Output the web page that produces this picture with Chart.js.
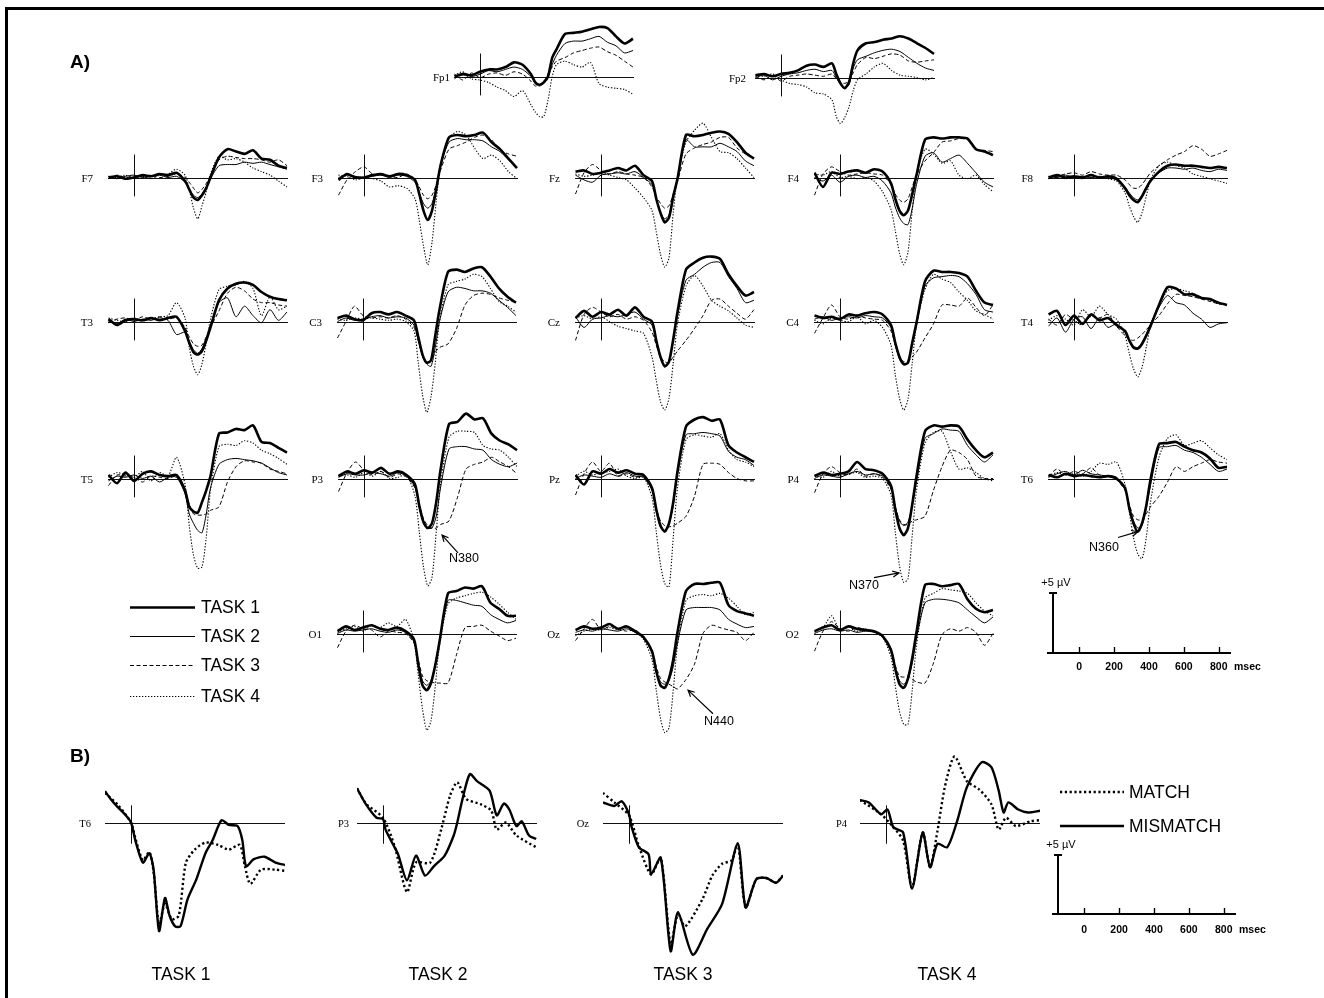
<!DOCTYPE html>
<html>
<head>
<meta charset="utf-8">
<script src="https://cdn.jsdelivr.net/npm/chart.js@4.4.1/dist/chart.umd.min.js"></script>
<style>
  body { margin: 0; background: #fff; }
  #fig { position: relative; width: 1324px; height: 998px; overflow: hidden; background: #fff; }
  #fig canvas { position: absolute; }
</style>
</head>
<body>
<div id="fig"></div>
<script>
// Сетка времени (мс) для панели A
const times = [-150, -100, -50, 0, 50, 100, 150, 200, 250, 300, 325, 350, 375, 400, 425, 450, 500, 550, 600, 650, 700, 750, 800, 850, 900];
const taskNames = ["TASK 1", "TASK 2", "TASK 3", "TASK 4"];
const scaleTicks = [0, 200, 400, 600, 800];

// Панель A: по электроду — 4 ряда (TASK 1..4), мкВ
const Fp1 = [
  [0, 0.2, 0.1, 0.4, 0.6, 0.6, 0.8, 1.2, 1.0, 0.2, -0.5, -0.7, -0.5, 0, 1.6, 2.3, 3.6, 3.7, 3.8, 4.0, 4.2, 4.1, 3.4, 2.8, 3.2],
  [-0.2, 0.3, 0, 0.2, 0.5, 0.4, 0.6, 0.8, 0.6, 0, -0.6, -0.8, -0.6, -0.1, 1.0, 1.8, 2.8, 3.0, 3.0, 3.2, 3.4, 2.9, 2.6, 2.0, 2.2],
  [0.2, -0.3, 0.3, -0.1, 0.2, 0.3, 0.1, 0.4, 0.2, -0.4, -0.8, -0.7, -0.4, 0.2, 0.8, 1.3, 1.6, 2.0, 2.2, 2.4, 2.5, 2.1, 1.8, 1.3, 0.8],
  [0.1, 0.4, -0.2, -0.3, -0.5, -0.9, -1.2, -1.7, -1.2, -2.4, -3.0, -3.4, -3.4, -2.0, 0, 1.0, 1.3, 1.0, 0.8, 1.2, -0.6, -0.9, -1.0, -1.1, -1.5]
];
const Fp2 = [
  [0.2, 0.3, 0.1, 0.3, 0.4, 0.6, 1.0, 1.1, 0.9, 1.2, 0.3, -0.5, -0.9, -0.4, 1.2, 2.3, 2.9, 3.0, 3.2, 3.3, 3.5, 3.3, 2.9, 2.5, 2.0],
  [0, 0.2, -0.2, 0.1, 0.3, 0.4, 0.6, 0.7, 0.5, 0.6, 0, -0.6, -0.9, -0.6, 0.8, 1.5, 1.8, 2.1, 2.3, 2.4, 2.2, 1.7, 1.2, 0.8, 0.6],
  [0.1, -0.2, 0.2, -0.3, 0.1, 0.2, 0.3, 0.2, 0.1, 0.3, -0.1, -0.4, -0.5, -0.3, 0.4, 1.1, 1.7, 1.6, 1.8, 2.0, 1.9, 1.4, 1.3, 1.4, 1.5],
  [0.2, 0.1, 0.3, -0.2, -0.5, -0.6, -0.8, -1.3, -1.4, -1.9, -3.3, -3.9, -3.4, -2.5, -1.1, -0.2, 0.3, 0.9, 1.2, 0.6, 0.2, 0.1, 0, -0.2, 0]
];
const F7 = [
  [0, 0.1, -0.1, 0, 0.2, 0.1, 0.3, 0.2, 0.4, -0.3, -1.0, -1.7, -1.9, -1.5, -0.9, 0, 1.7, 2.4, 2.2, 2.0, 2.3, 1.6, 1.5, 1.0, 0.8],
  [0.1, -0.1, 0.1, 0.2, 0, 0.1, 0.2, 0, 0.1, -0.4, -1.0, -1.5, -1.7, -1.4, -0.8, -0.1, 1.0, 1.1, 1.1, 1.3, 1.2, 1.3, 1.1, 0.9, 0.7],
  [-0.1, 0.2, 0, 0.1, 0.1, 0.2, 0, 0.1, 0.3, 0, -0.4, -0.9, -1.3, -1.0, -0.5, 0.2, 1.5, 1.8, 1.7, 1.6, 1.6, 1.5, 1.3, 1.5, 1.0],
  [0.1, 0, 0.2, -0.1, 0.1, -0.1, 0.2, 0.3, 0.7, 0.2, -1.0, -2.6, -3.5, -2.4, -1.2, 0.3, 1.8, 1.5, 1.6, 1.3, 0.8, 0.5, 0.2, -0.3, -0.8]
];
const F3 = [
  [-0.2, 0.3, 0, 0, 0.2, 0.3, 0.1, 0.3, 0.2, -0.2, -1.4, -2.8, -3.6, -2.8, -1.0, 1.0, 3.4, 3.6, 3.5, 3.6, 3.8, 3.0, 2.4, 1.6, 0.8],
  [0, 0.2, 0.1, 0, 0.1, 0.2, 0, 0.2, 0.1, -0.4, -1.3, -2.2, -2.6, -2.2, -0.8, 1.0, 3.0, 3.3, 3.2, 3.2, 3.1, 2.6, 2.2, 1.5, 0.9],
  [-1.5, -0.2, 0.5, 0.9, 0.3, 0.2, 0.1, 0, 0.3, -0.2, -0.8, -1.5, -1.8, -1.5, -0.6, 0.6, 2.4, 2.7, 3.0, 3.4, 3.6, 3.2, 2.3, 2.0, 1.8],
  [0.2, 0.1, -0.2, 0, -0.1, -0.3, -0.8, -0.7, -0.9, -1.8, -3.6, -5.8, -7.4, -5.5, -2.0, 1.0, 3.3, 3.9, 3.6, 2.5, 1.6, 1.9, 1.4, 0.5, -0.1]
];
const Fz = [
  [0.5, 0.6, 0.3, 0.4, 0.6, 0.8, 0.6, 1.0, 0.2, -0.3, -1.8, -3.0, -3.8, -3.4, -1.6, -0.1, 3.6, 3.5, 3.6, 3.8, 3.9, 3.7, 3.0, 2.1, 1.6],
  [0.2, -0.2, -0.4, 0.2, 0.3, 0.4, 0.3, 0.5, 0, -0.6, -1.8, -3.0, -3.5, -3.2, -1.6, 0, 3.2, 2.6, 2.6, 2.6, 2.9, 2.6, 2.2, 1.4, 1.0],
  [-1.4, 0.4, 1.1, 0.6, 0.3, 0.5, 0.3, 0.2, 0, -0.8, -1.6, -2.2, -2.6, -2.4, -1.4, -0.3, 2.0, 2.5, 2.8, 3.0, 3.4, 3.4, 2.5, 2.0, 1.7],
  [0.3, 0.1, 0.2, 0.4, 0.2, 0, -0.2, -0.9, -1.7, -2.8, -4.6, -6.5, -7.6, -6.8, -3.0, 0, 3.0, 4.0, 4.6, 3.4, 2.2, 2.1, 1.6, 0.8, 0]
];
const F4 = [
  [0.4, -0.8, 0.4, 0.3, 0.5, 0.6, 0.4, 0.7, 0.5, -0.5, -1.8, -2.8, -3.2, -2.8, -1.4, 0.2, 3.2, 3.4, 3.3, 3.4, 3.4, 3.3, 2.4, 2.2, 1.9],
  [0, -0.3, 0.2, -0.4, 0.1, 0.2, 0, 0.1, -0.3, -1.3, -2.5, -3.4, -3.9, -4.0, -2.6, -0.6, 1.8, 2.1, 1.3, 1.6, 1.9, 1.2, 0.4, -0.4, -0.8],
  [-1.5, 0.3, 0.9, 0.5, 0.2, 0.3, 0.4, 0.3, 0.2, -0.6, -1.4, -1.9, -2.1, -1.8, -0.8, 0.2, 1.4, 2.1, 3.0, 3.1, 3.3, 3.2, 2.4, 2.3, 2.2],
  [0.3, 0.2, 0.5, 0, 0.1, -0.1, 0, -0.3, -1.2, -2.7, -4.5, -6.4, -7.4, -6.3, -2.8, 0.2, 2.4, 2.0, 1.2, 1.4, 0.2, -0.1, 0.2, -0.6, -1.2]
];
const F8 = [
  [0, 0.2, 0, 0.1, 0, 0.2, 0, 0.1, -0.1, -0.9, -1.5, -1.9, -2.1, -1.6, -0.9, -0.3, 0.5, 1.0, 1.1, 1.0, 1.0, 0.9, 0.8, 0.9, 0.8],
  [0.1, 0, 0.2, 0, 0.1, 0, 0.1, 0, -0.2, -0.8, -1.3, -1.7, -1.9, -1.5, -0.8, -0.2, 0.4, 0.8, 0.8, 0.7, 0.8, 0.6, 0.5, 0.7, 0.6],
  [-0.1, 0.1, 0.3, 0.4, 0.2, 0.5, 0.3, 0.2, 0.2, -0.2, -0.6, -0.9, -0.9, -0.6, -0.1, 0.4, 1.0, 1.5, 1.9, 2.2, 2.7, 2.4, 1.8, 2.0, 2.3],
  [0.1, 0, -0.1, 0, -0.1, 0, 0, -0.1, -0.3, -1.3, -2.4, -3.3, -3.8, -3.0, -1.6, -0.2, 1.0, 1.3, 1.0, 0.8, 0.3, 0.1, -0.1, -0.3, -0.5]
];
const T3 = [
  [0.2, -0.3, 0.1, 0.2, 0.1, 0.3, 0.1, 0.3, 0.4, -0.8, -1.8, -2.6, -2.8, -2.5, -1.6, -0.5, 1.8, 2.8, 3.2, 3.3, 3.1, 2.5, 2.1, 1.9, 1.8],
  [0, -0.2, 0.2, 0, 0.2, 0.1, 0.3, 0.1, -1.1, -0.9, -1.7, -2.4, -2.7, -2.3, -1.4, -0.3, 1.6, 2.0, 0.4, 1.3, 0.5, -0.1, 1.0, 0.1, 0.8],
  [-0.1, 0.2, 0.3, 0.1, 0.4, 0.2, 0.4, 0.2, 0.3, -0.5, -1.3, -1.9, -2.1, -2.0, -1.3, -0.5, 0.9, 2.4, 2.9, 2.6, 1.9, 1.6, 1.6, 1.4, 1.3],
  [0.3, 0.1, 0, 0.3, 0.1, 0.2, 0.4, 0.5, 1.6, 0.3, -2.2, -3.8, -4.5, -3.6, -1.8, 0.2, 2.7, 3.0, 3.1, 3.4, 2.8, 0.5, 2.1, 1.0, 1.3]
];
const C3 = [
  [0.3, 0.5, 0.2, 0.1, 0.7, 0.8, 0.6, 0.8, 0.5, 0.1, -1.3, -2.8, -3.5, -3.3, -1.2, 1.0, 4.2, 4.4, 4.2, 4.5, 4.6, 3.8, 2.8, 2.1, 1.6],
  [0, 0.3, 0.1, 0.2, 0.4, 0.5, 0.3, 0.4, 0.3, -0.3, -1.6, -2.9, -3.6, -3.8, -2.2, 0, 2.5, 2.9, 2.8, 2.6, 2.6, 2.4, 1.8, 1.2, 0.5],
  [-1.4, 0, 1.3, 0.5, 0.3, 0.4, 0.3, 0.5, 0.2, -0.5, -1.6, -2.9, -3.4, -3.3, -2.6, -2.2, -1.9, -0.6, 1.4, 2.2, 2.4, 2.3, 2.0, 1.8, 1.6],
  [0.2, 0.1, 0.3, 0.2, 0.3, 0.2, 0.1, 0.2, 0, -0.8, -3.5, -6.2, -7.7, -6.4, -3.5, 0, 3.1, 3.4, 3.6, 4.0, 3.8, 2.8, 1.7, 1.3, 0.8]
];
const Cz = [
  [0.3, 0.9, 0.4, 0.8, 0.6, 1.0, 0.5, 1.2, 0.4, 0, -1.6, -3.0, -3.8, -3.4, -1.5, 0.8, 4.4, 5.0, 5.4, 5.5, 5.3, 4.0, 3.0, 2.2, 2.5],
  [0.4, -0.5, 0.2, 0.3, 0.5, 0.4, 0.6, 0.8, 0.2, -0.3, -1.7, -3.1, -3.8, -3.5, -1.6, 0.5, 3.5, 4.0, 4.6, 5.0, 5.0, 3.8, 2.8, 1.6, 1.8],
  [-1.6, 0.6, 1.2, 0.8, 0.4, 0.6, 0.2, 0.4, 0.1, -0.9, -2.0, -3.0, -3.4, -3.5, -3.0, -2.5, -1.6, -0.6, 0.5, 1.8, 1.9, 1.3, 0.7, 0.2, 1.0],
  [0.3, 0.5, 0.2, 0.4, 0, -0.4, -0.6, -0.8, -1.0, -3.0, -5.0, -6.8, -7.5, -6.5, -3.5, -0.2, 3.0, 3.9, 3.0, 1.8, 1.3, 0.9, 0.3, -0.3, -0.5]
];
const C4 = [
  [0.5, 0.3, 0.4, 0.2, 0.6, 0.5, 0.7, 0.8, 0.6, -0.3, -1.8, -3.0, -3.6, -3.5, -1.8, -0.1, 3.4, 4.3, 4.2, 4.2, 4.1, 3.8, 2.6, 1.6, 1.4],
  [0.2, 0.4, 0.1, 0.3, 0.4, 0.3, 0.5, 0.4, 0.3, -0.5, -2.0, -3.2, -3.7, -3.4, -1.9, -0.3, 3.0, 3.7, 3.8, 3.9, 3.8, 3.2, 2.3, 1.0, 0.8],
  [-1.0, 0.3, 1.4, 0.4, 0.2, 0.5, 0.3, 0.2, 0.1, -0.8, -2.0, -3.0, -3.4, -3.4, -3.0, -2.6, -1.4, -0.2, 1.4, 1.4, 1.3, 2.0, 1.2, 0.5, 1.4],
  [0.1, -0.2, 0.3, 0.1, 0, 0.4, -0.2, 0.1, -0.5, -2.0, -4.5, -6.5, -7.5, -6.6, -3.5, -0.3, 2.7, 4.0, 3.6, 3.3, 2.5, 1.8, 0.9, 0.6, 0.2]
];
const T4 = [
  [0.6, 0.9, -0.3, 0.5, -0.2, 0.6, 0.1, 0.3, -0.3, -0.8, -1.6, -2.2, -2.3, -1.9, -1.2, -0.4, 1.4, 2.9, 2.8, 2.3, 2.3, 2.0, 1.9, 1.6, 1.4],
  [-0.4, 0.3, -0.9, 0.2, 0.4, -0.6, 0.3, -0.5, -0.2, -0.9, -1.6, -2.1, -2.2, -1.8, -1.1, -0.2, 1.2, 2.2, 1.6, 1.4, 0.7, 0.2, -0.5, -0.2, -0.1],
  [0.2, -0.3, 0.6, 0.1, -0.3, 0.5, 0.3, 0.6, -0.4, -1.2, -1.5, -1.6, -1.4, -1.1, -0.7, -0.3, 0.5, 1.5, 2.3, 2.2, 2.1, 1.9, 1.7, 1.5, 1.4],
  [0.1, 0.5, 0.2, -0.3, 1.0, 0.4, 1.3, 0.6, 0.2, -1.2, -2.7, -4.0, -4.7, -3.9, -2.2, -0.4, 1.4, 2.6, 2.8, 2.6, 2.4, 2.0, 1.8, 1.5, 1.4]
];
const T5 = [
  [0.3, -0.4, 0.5, -0.2, 0.4, 0.6, 0.3, 0.2, 0.3, -1.0, -2.4, -2.8, -2.9, -2.0, -1.0, 0.2, 3.8, 3.9, 4.2, 4.1, 4.5, 3.1, 3.0, 2.6, 2.2],
  [-0.2, 0.2, 0.1, 0.3, 0, 0.2, -0.3, 0.1, 0.1, -1.3, -3.0, -3.8, -4.4, -4.6, -3.0, -0.8, 1.2, 1.6, 1.7, 1.6, 1.5, 1.3, 0.9, 0.5, 0.3],
  [-0.6, 0.3, 0.2, 0.1, -0.3, 0.2, 0.1, 0, 0.2, -1.0, -2.2, -3.0, -3.1, -3.1, -3.0, -2.7, -2.4, -0.3, 1.0, 1.5, 1.4, 1.3, 0.8, 0.6, 0.4],
  [0.1, 0.5, 0.3, 0.1, 0.6, -0.2, 0.5, 0.2, 1.8, -0.5, -4.0, -6.5, -7.6, -7.5, -5.0, -1.0, 2.7, 2.9, 2.8, 3.2, 3.0, 2.4, 2.1, 1.7, 1.2]
];
const P3 = [
  [0.2, 0.6, 0.4, 0.7, 0.5, 0.9, 0.4, 0.6, 0.3, -0.5, -2.3, -3.7, -4.2, -3.8, -2.0, 0.7, 4.6, 4.8, 5.5, 5.0, 5.1, 3.8, 3.2, 2.9, 2.4],
  [0.1, 0.4, 0.3, 0.3, 0.5, 0.4, 0.2, 0.5, 0.2, -0.7, -2.4, -3.8, -4.2, -4.2, -3.2, -0.8, 2.5, 2.7, 2.7, 2.5, 2.4, 1.6, 1.2, 1.0, 1.3],
  [-1.1, 0.5, 1.4, 0.7, 0.3, 0.6, 0.1, 0.4, 0.1, -0.8, -2.2, -3.4, -4.0, -4.2, -4.2, -3.9, -3.6, -1.6, 0.8, 1.2, 1.4, 1.8, 1.4, 1.0, 0.4],
  [0.2, 0.3, 0.1, 0.5, 0.2, 0.6, 0, 0.1, 0.3, -1.5, -4.5, -7.5, -9.1, -8.4, -4.5, -0.5, 3.5, 4.0, 4.0, 3.9, 2.8, 2.5, 2.4, 1.8, 1.0]
];
const Pz = [
  [0.3, -0.5, 0.6, 0.4, 0.8, 0.5, 0.7, 0.4, 0.3, -0.8, -2.6, -4.0, -4.5, -3.8, -2.0, 0.6, 4.4, 5.0, 5.2, 4.9, 5.0, 2.8, 2.2, 1.8, 1.4],
  [0, 0.3, 0.2, 0.1, 0.4, 0.2, 0.5, 0.2, 0.1, -1.0, -2.8, -4.1, -4.4, -3.9, -2.3, 0.3, 3.7, 3.8, 3.9, 3.8, 3.6, 2.3, 1.8, 1.6, 1.1],
  [-1.4, 0.4, 1.4, 0.6, 1.3, 0.2, 0.4, 0.1, 0.2, -0.9, -2.5, -3.6, -4.0, -4.1, -4.0, -3.8, -3.2, -1.5, 1.2, 1.3, 1.2, 0.5, 0, -0.2, -0.2],
  [0.2, 0.6, 0.3, 0.5, 0.6, 0.8, 0.2, 0, 0.1, -1.6, -4.5, -7.3, -8.9, -9.2, -5.0, -0.8, 3.3, 3.7, 3.6, 3.5, 3.8, 2.4, 1.6, 1.4, 1.0]
];
const P4 = [
  [0.2, 0.5, 0.3, 0.4, 0.6, 1.4, 0.8, 0.7, 0.4, -0.6, -2.6, -4.2, -4.8, -4.2, -2.2, 0.2, 4.0, 4.5, 4.4, 4.5, 4.4, 3.3, 2.4, 1.8, 2.2],
  [0, 0.3, 0.2, 0.1, 0.4, 0.6, 0.3, 0.4, 0.2, -0.8, -2.4, -3.6, -4.0, -3.7, -2.3, -0.3, 3.4, 3.8, 4.2, 4.1, 4.0, 2.8, 2.0, 1.4, 2.0],
  [-1.2, 0.4, 1.0, 0.5, 0.3, 0.8, 0.2, 0.4, 0.1, -0.9, -2.4, -3.5, -3.9, -3.9, -3.6, -3.5, -3.2, -1.0, 1.0, 2.4, 2.2, 1.6, 0.2, 0, 0],
  [0.3, 0.1, 0.6, 0.2, 0.4, 0.5, 0.1, 0.2, 0, -1.4, -4.5, -7.4, -8.8, -8.5, -4.8, -1.0, 3.0, 3.9, 4.0, 2.3, 0.8, 0.9, 0.5, 0, -0.2]
];
const T6 = [
  [0.3, 0.1, 0.4, 0.2, 0.3, 0.2, 0.1, 0.2, 0, -0.8, -2.5, -3.8, -4.5, -3.8, -2.3, -0.1, 2.9, 3.0, 3.1, 2.7, 2.4, 2.2, 1.7, 0.9, 1.0],
  [0.1, 0.4, 0.6, 0.3, 0.7, 0.4, 0.3, 0.2, 0.1, -0.9, -2.4, -3.6, -4.2, -4.0, -2.5, -0.6, 2.6, 2.7, 2.8, 2.4, 2.2, 1.8, 1.2, 0.6, 0.8],
  [0.2, 0.8, 0.3, 0.6, 0.4, 0.9, 0.3, 0.2, -0.1, -1.0, -2.2, -3.2, -3.5, -3.5, -3.0, -2.4, -1.5, -0.3, 1.0, 0.6, 1.0, 1.3, 1.6, 1.4, 1.3],
  [0.2, 0.5, 0.3, 0.4, 0.2, 0.6, 1.3, 1.2, 1.4, -0.5, -2.8, -5.0, -6.4, -6.8, -5.0, -2.0, 1.8, 3.4, 3.7, 2.8, 3.0, 3.2, 2.6, 2.0, 1.6]
];
const O1 = [
  [0.2, 0.6, 0.3, 0.5, 0.7, 0.4, 0.3, 0.5, 0.2, -0.5, -2.6, -4.4, -4.8, -4.2, -2.7, -0.7, 3.4, 3.6, 3.9, 3.8, 4.0, 2.6, 2.1, 1.5, 1.5],
  [0, 0.3, 0.2, 0.3, 0.4, 0.2, 0.1, 0.3, 0.1, -0.7, -2.5, -4.0, -4.4, -4.0, -2.6, -0.7, 2.8, 2.8, 2.6, 2.4, 2.3, 1.6, 1.2, 0.9, 1.1],
  [-1.2, 0.2, 0.7, 0.4, 0.3, -0.3, 0.2, 0.1, 0, -0.8, -2.2, -3.6, -4.0, -4.1, -4.2, -4.2, -4.2, -1.8, 0.5, 0.6, 0.7, 0.2, -0.2, -0.6, -0.4],
  [0.1, 0.4, 0.6, 0.2, 0.7, 0.5, 0.9, 0.6, 1.2, -0.6, -3.5, -6.4, -8.2, -7.4, -4.5, -1.0, 2.5, 3.0, 3.2, 3.4, 3.5, 3.1, 2.5, 1.8, 1.2]
];
const Oz = [
  [0.3, 0.6, 0.4, 0.5, 0.8, 0.4, 0.6, 0.2, -0.3, -1.5, -3.2, -4.4, -4.6, -3.8, -2.2, 0.1, 3.6, 4.2, 4.2, 4.3, 4.3, 2.4, 1.9, 1.7, 1.5],
  [0.1, 0.3, 0.2, 0.4, 0.3, 0.2, 0.4, 0.1, -0.4, -1.6, -3.2, -4.1, -4.3, -4.0, -2.8, -0.8, 2.0, 2.2, 2.2, 2.2, 2.0, 1.2, 0.8, 0.5, 0.6],
  [-0.6, 0.4, 1.2, 0.3, 0.6, 0.4, 0.2, 0.3, -0.3, -1.4, -2.8, -3.8, -4.1, -4.3, -4.5, -4.7, -3.9, -2.6, 0, 0.7, 0.5, 0.3, 0.1, -0.6, 0.1],
  [-0.2, 0.2, 0.4, 0.3, 0.5, 0.3, 0.6, 0.2, -0.5, -2.2, -4.8, -7.2, -8.4, -8.0, -4.8, -1.0, 2.8, 3.2, 3.3, 3.2, 3.4, 3.0, 2.3, 1.6, 1.8]
];
const O2 = [
  [0.2, 0.5, 0.7, 0.3, 0.6, 0.4, 0.3, 0.2, -0.2, -1.4, -3.0, -4.3, -4.6, -3.8, -2.1, 0.1, 4.1, 4.2, 4.0, 4.1, 4.2, 2.9, 2.1, 1.8, 2.0],
  [0, 0.3, 0.4, 0.2, 0.3, 0.1, 0.2, 0.1, -0.3, -1.5, -3.0, -4.0, -4.3, -3.9, -2.5, -0.4, 2.6, 2.9, 2.9, 2.8, 2.6, 2.0, 1.4, 0.9, 1.4],
  [-1.5, 0.2, 1.0, 0.4, 0.2, 0.5, 0.3, 0.2, -0.2, -1.3, -2.7, -3.6, -3.7, -3.6, -3.9, -4.1, -4.2, -2.5, -0.1, 0.4, 0.2, 0.5, 0.1, -1.0, 0],
  [0.1, 0.5, 1.5, 0.3, 0.6, 0.2, 0.4, 0.1, -0.3, -2.0, -4.4, -6.6, -7.7, -7.7, -4.8, -1.0, 3.0, 3.4, 3.8, 3.7, 3.6, 3.4, 2.6, 1.9, 1.5]
];

// Панель B: [мс, мкВ], MATCH / MISMATCH
const b1Match = [[-153, 2.5], [-78, 1.5], [0, 0], [27, -1.4], [70, -3.2], [108, -2.5], [133, -4.2], [165, -8.6], [200, -6.9], [240, -8.2], [281, -7.9], [323, -3.4], [375, -2.3], [438, -1.7], [513, -1.9], [575, -2.3], [640, -1.9], [670, -3.7], [702, -5.2], [765, -4.0], [850, -4.0], [906, -4.1]];
const b1Mismatch = [[-153, 2.65], [-120, 2.0], [-78, 1.3], [-30, 0.6], [0, 0], [27, -1.6], [70, -3.4], [108, -2.6], [133, -4.0], [165, -9.2], [200, -6.4], [227, -7.9], [260, -8.8], [291, -8.8], [333, -6.5], [385, -4.8], [438, -2.6], [480, -1.5], [533, 0.2], [575, -0.2], [627, -0.3], [655, -1.5], [677, -3.7], [723, -3.1], [785, -2.9], [850, -3.4], [906, -3.6]];
const b2Match = [[-153, 2.9], [-100, 1.6], [0, 0.4], [68, -2.0], [141, -5.9], [194, -3.4], [278, -3.4], [342, -0.6], [395, 2.3], [437, 3.4], [489, 2.0], [574, 1.55], [637, 1.0], [669, -0.6], [722, 0], [785, -1.1], [901, -2.1]];
const b2Mismatch = [[-153, 2.9], [-101, 1.55], [-38, 0.4], [0, 0.3], [15, -0.6], [68, -2.1], [89, -2.7], [141, -4.9], [194, -2.8], [247, -4.5], [300, -3.7], [363, -2.8], [416, -1.1], [437, 0], [468, 2.0], [511, 4.1], [553, 3.5], [627, 2.7], [669, 0.6], [711, 1.6], [743, 1.1], [785, -0.3], [816, 0.1], [859, -1.1], [901, -1.4]];
const b3Match = [[-153, 2.5], [-86, 1.7], [0, 0.6], [58, -2.0], [130, -4.4], [187, -3.0], [245, -10.3], [288, -7.8], [331, -8.8], [432, -6.5], [490, -4.5], [548, -3.5], [605, -3.2], [640, -1.8], [686, -7.2], [749, -4.8], [807, -4.7], [865, -5.1], [906, -4.5]];
const b3Mismatch = [[-153, 1.7], [-86, 1.4], [-43, 1.8], [0, 0.7], [14, -0.3], [58, -2.1], [115, -2.7], [130, -4.4], [187, -3.0], [245, -10.9], [288, -7.6], [375, -11.2], [461, -9.0], [548, -6.9], [640, -1.8], [686, -7.2], [749, -4.8], [807, -4.7], [865, -5.1], [906, -4.5]];
const b4Match = [[-153, 1.9], [-29, 0.7], [43, -0.4], [101, -1.55], [153, -5.5], [216, -0.85], [259, -3.8], [303, -0.7], [346, 3.0], [403, 5.6], [476, 3.5], [548, 2.8], [620, 1.55], [663, -0.6], [706, 0.4], [764, -0.3], [850, 0.1], [906, 0.2]];
const b4Mismatch = [[-153, 1.9], [-101, 1.7], [-29, 0.7], [9, 1.1], [43, -0.4], [101, -0.85], [153, -5.6], [216, -0.85], [259, -3.8], [303, -1.8], [360, -2.1], [418, 0.1], [476, 3.0], [562, 5.1], [620, 4.7], [663, 2.7], [692, 0.85], [720, 1.7], [778, 1.1], [836, 0.85], [906, 1.0]];

// Геометрия
const PX = 11.8;            // пикселей на мкВ
const Y_MAX = 7.5, Y_MIN = -12.5;
const X_MIN = -153, X_MAX = 906;
const PLOT_W = 180, PAD_L = 40;
const SANS = '"Liberation Sans", Arial, sans-serif';
const SERIF = '"Liberation Serif", "Times New Roman", serif';

const fig = document.getElementById("fig");

function addCanvas(left, top, w, h) {
  const c = document.createElement("canvas");
  c.width = w; c.height = h;
  c.style.left = left + "px"; c.style.top = top + "px";
  c.style.width = w + "px"; c.style.height = h + "px";
  fig.appendChild(c);
  return c;
}

// Рамка, подписи панелей, легенды (нижний слой)
const deco = addCanvas(0, 0, 1324, 998);
(function () {
  const ctx = deco.getContext("2d");
  ctx.fillStyle = "#000";
  ctx.fillRect(5, 7, 1319, 3);
  ctx.fillRect(5, 7, 3, 991);

  ctx.font = "bold 19px " + SANS;
  ctx.textBaseline = "middle";
  ctx.fillText("A)", 70, 63);
  ctx.fillText("B)", 70, 757);
})();

// Нулевая линия, метка стимула, подпись электрода, стрелки
const erpPlugin = {
  id: "erp",
  beforeDatasetsDraw(chart, args, o) {
    const { ctx, chartArea: a, scales: { x, y } } = chart;
    const y0 = Math.round(y.getPixelForValue(0)) + 0.5;
    const x0 = Math.round(x.getPixelForValue(0)) + 0.5;
    ctx.save();
    ctx.strokeStyle = "#111";
    ctx.lineWidth = 1;
    ctx.beginPath();
    ctx.moveTo(a.left, y0); ctx.lineTo(a.right, y0);
    ctx.moveTo(x0, y.getPixelForValue(o.up)); ctx.lineTo(x0, y.getPixelForValue(-o.down));
    ctx.stroke();
    ctx.fillStyle = "#000";
    ctx.font = o.font;
    ctx.textAlign = "right";
    ctx.textBaseline = "middle";
    ctx.fillText(o.label, a.left - o.gap, y0 + 1);
    ctx.restore();
  },
  afterDatasetsDraw(chart, args, o) {
    const n = o.note;
    if (!n) return;
    const { ctx, scales: { x, y } } = chart;
    const tx = x.getPixelForValue(n.tail[0]), ty = y.getPixelForValue(n.tail[1]);
    const hx = x.getPixelForValue(n.tip[0]), hy = y.getPixelForValue(n.tip[1]);
    const ang = Math.atan2(hy - ty, hx - tx);
    ctx.save();
    ctx.strokeStyle = "#000";
    ctx.lineWidth = 1.2;
    ctx.beginPath();
    ctx.moveTo(tx, ty); ctx.lineTo(hx, hy);
    ctx.moveTo(hx - 7 * Math.cos(ang - 0.45), hy - 7 * Math.sin(ang - 0.45));
    ctx.lineTo(hx, hy);
    ctx.lineTo(hx - 7 * Math.cos(ang + 0.45), hy - 7 * Math.sin(ang + 0.45));
    ctx.stroke();
    ctx.fillStyle = "#000";
    ctx.font = "12.5px " + SANS;
    ctx.textAlign = "left";
    ctx.textBaseline = "middle";
    ctx.fillText(n.text, x.getPixelForValue(n.at[0]), y.getPixelForValue(n.at[1]));
    ctx.restore();
  }
};

function erpChart(p, datasets, up, down, font) {
  const left = p.onset - 26 - PAD_L;
  const top = Math.round(p.base - Y_MAX * PX);
  const h = Math.round((Y_MAX - Y_MIN) * PX);
  const c = addCanvas(left, top, PLOT_W + PAD_L, h);
  return new Chart(c, {
    type: "line",
    data: { datasets },
    options: {
      responsive: false,
      animation: false,
      events: [],
      layout: { padding: { left: PAD_L, right: 0, top: 0, bottom: 0 } },
      elements: { point: { radius: 0 }, line: { tension: 0.25 } },
      scales: {
        x: { type: "linear", min: X_MIN, max: X_MAX, display: false },
        y: { min: Y_MIN, max: Y_MAX, display: false }
      },
      plugins: {
        legend: { display: false },
        tooltip: { enabled: false },
        erp: { label: p.name, gap: p.gap ?? 15, up, down, font, note: p.note || null }
      }
    },
    plugins: [erpPlugin]
  });
}

// Стили линий TASK 1..4
const taskStyles = [
  { borderWidth: 2.6, borderDash: [] },
  { borderWidth: 1, borderDash: [] },
  { borderWidth: 1, borderDash: [4, 2.5] },
  { borderWidth: 1.1, borderDash: [1.3, 1.7] }
];

const panelA = [
  { name: "Fp1", vals: Fp1, onset: 480, base: 76, gap: 4 },
  { name: "Fp2", vals: Fp2, onset: 781, base: 77, gap: 9 },
  { name: "F7", vals: F7, onset: 134, base: 177 },
  { name: "F3", vals: F3, onset: 364, base: 177 },
  { name: "Fz", vals: Fz, onset: 601, base: 177 },
  { name: "F4", vals: F4, onset: 840, base: 177 },
  { name: "F8", vals: F8, onset: 1074, base: 177 },
  { name: "T3", vals: T3, onset: 134, base: 321 },
  { name: "C3", vals: C3, onset: 363, base: 321 },
  { name: "Cz", vals: Cz, onset: 601, base: 321 },
  { name: "C4", vals: C4, onset: 840, base: 321 },
  { name: "T4", vals: T4, onset: 1074, base: 321 },
  { name: "T5", vals: T5, onset: 134, base: 478 },
  { name: "P3", vals: P3, onset: 364, base: 478,
    note: { text: "N380", tip: [459, -4.8], tail: [553, -6.3], at: [500, -6.8] } },
  { name: "Pz", vals: Pz, onset: 601, base: 478 },
  { name: "P4", vals: P4, onset: 840, base: 478,
    note: { text: "N370", tip: [347, -8.0], tail: [200, -8.4], at: [53, -9.1] } },
  { name: "T6", vals: T6, onset: 1074, base: 478,
    note: { text: "N360", tip: [376, -4.5], tail: [259, -5.0], at: [88, -5.85] } },
  { name: "O1", vals: O1, onset: 363, base: 633 },
  { name: "Oz", vals: Oz, onset: 601, base: 633,
    note: { text: "N440", tip: [512, -4.8], tail: [659, -6.8], at: [606, -7.5] } },
  { name: "O2", vals: O2, onset: 840, base: 633 }
];

panelA.forEach(p => {
  const ds = p.vals.map((vals, k) => ({
    label: taskNames[k],
    data: times.map((t, i) => ({ x: t, y: vals[i] })),
    borderColor: "#000",
    borderWidth: taskStyles[k].borderWidth,
    borderDash: taskStyles[k].borderDash,
    fill: false
  }));
  erpChart(p, ds, 1.95, 1.6, "11px " + SERIF);
});

const panelB = [
  { name: "T6", match: b1Match, mismatch: b1Mismatch, onset: 131, base: 822, gap: 14 },
  { name: "P3", match: b2Match, mismatch: b2Mismatch, onset: 383, base: 822, gap: 8 },
  { name: "Oz", match: b3Match, mismatch: b3Mismatch, onset: 629, base: 822, gap: 14 },
  { name: "P4", match: b4Match, mismatch: b4Mismatch, onset: 886, base: 822, gap: 13 }
];

panelB.forEach(p => {
  const ds = [
    { label: "MISMATCH", data: p.mismatch.map(d => ({ x: d[0], y: d[1] })),
      borderColor: "#000", borderWidth: 2.4, fill: false },
    { label: "MATCH", data: p.match.map(d => ({ x: d[0], y: d[1] })),
      borderColor: "#000", borderWidth: 2.4, borderDash: [2.2, 2.6], fill: false }
  ];
  erpChart(p, ds, 1.45, 1.8, "10.5px " + SERIF);
});

// Масштабные отрезки
const barPlugin = {
  id: "bar",
  afterDraw(chart, args, o) {
    const { ctx, scales: { x, y } } = chart;
    const xl = x.getPixelForValue(x.min), xr = x.getPixelForValue(x.max);
    const y0 = y.getPixelForValue(0), y5 = y.getPixelForValue(5);
    ctx.save();
    ctx.strokeStyle = "#000";
    ctx.lineWidth = 2;
    ctx.beginPath();
    ctx.moveTo(xl, y0); ctx.lineTo(xl, y5);
    ctx.moveTo(xl - 4, y5); ctx.lineTo(xl + 4, y5);
    ctx.moveTo(xl - 6, y0); ctx.lineTo(xr, y0);
    ctx.stroke();
    ctx.lineWidth = 1.4;
    o.ticks.forEach(v => {
      const px = Math.round(x.getPixelForValue(v)) + 0.5;
      ctx.beginPath(); ctx.moveTo(px, y0); ctx.lineTo(px, y0 - 6); ctx.stroke();
    });
    ctx.fillStyle = "#000";
    ctx.font = "bold 10.5px " + SANS;
    ctx.textAlign = "center";
    ctx.textBaseline = "middle";
    o.ticks.forEach(v => ctx.fillText(String(v), x.getPixelForValue(v), y0 + o.gap));
    ctx.textAlign = "left";
    ctx.fillText("msec", xr + 3, y0 + o.gap);
    ctx.font = "11px " + SANS;
    ctx.textAlign = "center";
    ctx.fillText("+5 \u00b5V", xl + 3, y5 - 10);
    ctx.restore();
  }
};

function scaleBar(vx, top, bottom, right, gap) {
  const padL = 40, padT = 30, padR = 45, padB = 30;
  const c = addCanvas(vx - padL, top - padT, padL + (right - vx) + padR, padT + (bottom - top) + padB);
  return new Chart(c, {
    type: "line",
    data: { datasets: [] },
    options: {
      responsive: false,
      animation: false,
      events: [],
      layout: { padding: { left: padL, top: padT, right: padR, bottom: padB } },
      scales: {
        x: { type: "linear", min: -150, max: 870, display: false },
        y: { min: 0, max: 5, display: false }
      },
      plugins: { legend: { display: false }, tooltip: { enabled: false }, bar: { ticks: scaleTicks, gap } }
    },
    plugins: [barPlugin]
  });
}

scaleBar(1053, 593, 653, 1231, 14);
scaleBar(1058, 855, 914, 1236, 16);

// Легенды и подписи задач (верхний слой)
const labels = addCanvas(0, 0, 1324, 998);
(function () {
  const ctx = labels.getContext("2d");
  ctx.fillStyle = "#000";
  ctx.strokeStyle = "#000";
  ctx.textBaseline = "middle";
  const legendY = [607, 636, 665, 696];
  ctx.font = "17.5px " + SANS;
  taskNames.forEach((name, k) => {
    ctx.lineWidth = taskStyles[k].borderWidth;
    ctx.setLineDash(taskStyles[k].borderDash);
    ctx.beginPath();
    ctx.moveTo(130, legendY[k] + 0.5); ctx.lineTo(195, legendY[k] + 0.5);
    ctx.stroke();
    ctx.fillText(name, 201, legendY[k] + 1);
  });

  ctx.lineWidth = 2.4;
  ctx.setLineDash([2.2, 2.6]);
  ctx.beginPath(); ctx.moveTo(1060, 792); ctx.lineTo(1124, 792); ctx.stroke();
  ctx.setLineDash([]);
  ctx.beginPath(); ctx.moveTo(1060, 826); ctx.lineTo(1124, 826); ctx.stroke();
  ctx.fillText("MATCH", 1129, 793);
  ctx.fillText("MISMATCH", 1129, 827);

  ctx.textAlign = "center";
  const taskX = [181, 438, 683, 947];
  taskX.forEach((x, k) => ctx.fillText(taskNames[k], x, 975));
})();
</script>
</body>
</html>
